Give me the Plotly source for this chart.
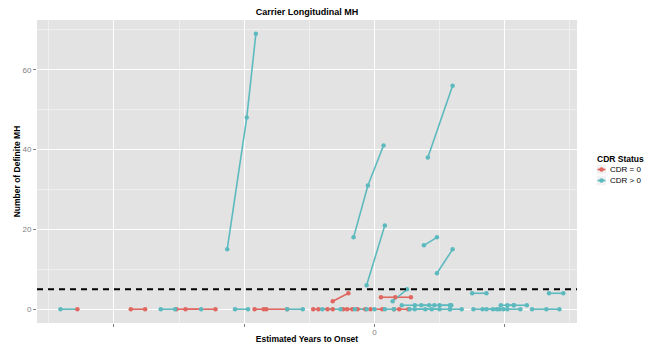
import plotly.graph_objects as go

# Longitudinal visits: one row per visit
subject_id = [
    1, 1, 2, 2, 3, 3, 4, 4, 5, 5, 6, 6, 7, 7, 7, 8, 8, 9, 9, 10, 10,
    11, 11, 12, 12, 13, 13, 14, 14, 15, 15, 15, 16, 16, 16, 17, 17, 18, 18,
    19, 19, 19, 20, 20, 20, 21, 21, 21, 22, 22, 23, 23, 23, 24, 24, 24,
    25, 25, 26, 26, 26, 27, 27, 27, 28, 28, 28, 29, 29, 29, 30, 30, 30,
    31, 31, 32, 32, 33, 33, 34, 34, 35, 35, 35, 36, 36, 37, 37, 38, 38,
    39, 39, 40, 40, 41, 41, 41,
]
years_to_onset = [
    -24.1, -22.8, -18.7, -17.6, -16.4, -15.3, -15.2, -13.3, -14.5, -12.2,
    -10.7, -9.7, -11.3, -9.8, -9.1, -9.2, -8.3, -8.5, -6.7, -6.7, -5.5,
    -4.7, -3.6, -4.3, -3.2, -4.0, -2.6, -2.4, -1.7, -2.1, -1.3, -0.7,
    -1.5, -0.6, 0.0, -0.3, 0.6, 0.8, 1.5, 1.5, 1.9, 2.6, 2.7, 3.9, 5.0,
    3.1, 4.4, 5.8, 5.8, 6.7, 2.1, 3.1, 4.2, 3.6, 4.6, 5.8, 5.0, 5.9,
    7.6, 8.6, 9.6, 8.3, 9.1, 9.9, 9.4, 10.2, 11.2, 12.1, 13.2, 14.2,
    9.7, 10.7, 11.7, 10.2, 10.7, 7.5, 8.6, 13.4, 14.5, 1.4, 2.5,
    -1.6, -0.5, 0.7, -0.6, 0.8, 4.1, 6.0, 3.8, 4.8, 4.8, 6.0,
    -3.2, -2.0, 0.5, 1.6, 2.8,
]
definite_mh = [
    0, 0, 0, 0, 0, 0, 0, 0, 0, 0, 0, 0, 15, 48, 69, 0, 0, 0, 0, 0, 0,
    0, 0, 0, 0, 0, 0, 0, 0, 0, 0, 0, 0, 0, 0, 0, 0, 0, 0,
    0, 0, 0, 0, 0, 0, 0, 0, 0, 0, 0, 1, 1, 1, 1, 1, 1,
    1, 1, 0, 0, 0, 0, 0, 0, 0, 0, 0, 0, 0, 0, 1, 1, 1,
    1, 1, 4, 4, 4, 4, 2, 5, 18, 31, 41, 6, 21, 38, 56, 16, 18,
    9, 15, 2, 4, 3, 3, 3,
]
# 1 = CDR > 0, 0 = CDR = 0
cdr_positive = [
    1, 0, 0, 0, 1, 1, 0, 1, 0, 0, 1, 1, 1, 1, 1, 0, 0, 0, 0, 1, 1,
    0, 0, 0, 0, 1, 1, 0, 0, 0, 0, 0, 1, 1, 1, 0, 0, 1, 1,
    0, 0, 0, 1, 1, 1, 1, 1, 1, 1, 1, 1, 1, 1, 1, 1, 1,
    1, 1, 1, 1, 1, 1, 1, 1, 1, 1, 1, 1, 1, 1, 1, 1, 1,
    1, 1, 1, 1, 1, 1, 1, 1, 1, 1, 1, 1, 1, 1, 1, 1, 1,
    1, 1, 0, 0, 0, 0, 0,
]

status_names = ["CDR = 0", "CDR > 0"]
status_colors = ["#E0675F", "#5CBABF"]
threshold_mh = 5

x_tick_vals = [-20, -10, 0, 10]
x_tick_text = ["", "", "0", ""]
y_tick_vals = [0, 20, 40, 60]

FIG_W, FIG_H = 646, 344
M_L, M_R, M_T, M_B = 37, 69, 20, 21
PLOT_W = FIG_W - M_L - M_R
PLOT_H = FIG_H - M_T - M_B


def paper_x(px):
    return (px - M_L) / PLOT_W


def paper_y(py):
    return (FIG_H - M_B - py) / PLOT_H


# Segments between consecutive visits, coloured by the earlier visit's status
seg_x = {0: [], 1: []}
seg_y = {0: [], 1: []}
for i in range(len(subject_id) - 1):
    if subject_id[i] == subject_id[i + 1]:
        s = cdr_positive[i]
        seg_x[s] += [years_to_onset[i], years_to_onset[i + 1], None]
        seg_y[s] += [definite_mh[i], definite_mh[i + 1], None]

fig = go.Figure()
for s in (0, 1):
    fig.add_trace(go.Scatter(
        x=seg_x[s], y=seg_y[s], mode="lines",
        line=dict(color=status_colors[s], width=1.6),
        showlegend=False, hoverinfo="skip",
    ))
for s in (0, 1):
    idx = [i for i, c in enumerate(cdr_positive) if c == s]
    fig.add_trace(go.Scatter(
        x=[years_to_onset[i] for i in idx],
        y=[definite_mh[i] for i in idx],
        mode="markers", name=status_names[s],
        marker=dict(color=status_colors[s], size=4.5, line=dict(width=0)),
        showlegend=False,
    ))

shapes = [dict(
    type="line", xref="paper", x0=0, x1=1, yref="y",
    y0=threshold_mh, y1=threshold_mh, layer="above",
    line=dict(color="black", width=2, dash="6px,5px"),
)]

FONT = "Liberation Sans, Arial, sans-serif"

# Legend drawn as keys and labels to the right of the panel
annotations = [dict(
    text="<b>CDR Status</b>", xref="paper", yref="paper",
    x=paper_x(595), y=paper_y(158.5), xanchor="left", yanchor="middle",
    showarrow=False, font=dict(family=FONT, size=8.5, color="black"),
)]
key_rows = [169.5, 180.5]
for s, ky in zip((0, 1), key_rows):
    shapes.append(dict(
        type="rect", xref="paper", yref="paper",
        x0=paper_x(596.5), x1=paper_x(606.5),
        y0=paper_y(ky + 5), y1=paper_y(ky - 5),
        fillcolor="#F2F2F2", line=dict(color="white", width=0.5),
        layer="above",
    ))
    shapes.append(dict(
        type="line", xref="paper", yref="paper",
        x0=paper_x(597.5), x1=paper_x(605.5),
        y0=paper_y(ky), y1=paper_y(ky),
        line=dict(color=status_colors[s], width=1.6), layer="above",
    ))
    shapes.append(dict(
        type="circle", xref="paper", yref="paper",
        xsizemode="pixel", ysizemode="pixel",
        xanchor=paper_x(601.5), yanchor=paper_y(ky),
        x0=-2.3, x1=2.3, y0=-2.3, y1=2.3,
        fillcolor=status_colors[s], line=dict(width=0), layer="above",
    ))
    annotations.append(dict(
        text=status_names[s], xref="paper", yref="paper",
        x=paper_x(607.5), y=paper_y(ky), xanchor="left", yanchor="middle",
        showarrow=False, font=dict(family=FONT, size=8, color="black"),
    ))

fig.update_layout(
    width=FIG_W, height=FIG_H,
    margin=dict(l=M_L, r=M_R, t=M_T, b=M_B, pad=0),
    paper_bgcolor="white", plot_bgcolor="#E3E3E3",
    font=dict(family=FONT, size=8, color="#7F7F7F"),
    title=dict(
        text="<b>Carrier Longitudinal MH</b>", x=0.5, xref="paper",
        y=1 - 12 / FIG_H, yref="container", yanchor="middle",
        font=dict(family=FONT, size=9, color="black"),
    ),
    shapes=shapes, annotations=annotations,
    xaxis=dict(
        range=[-25.9, 15.55], tickvals=x_tick_vals, ticktext=x_tick_text,
        showgrid=True, gridcolor="white", gridwidth=1,
        zeroline=False, showline=False,
        ticks="outside", ticklen=3, tickcolor="#7F7F7F", tickwidth=1,
        tickfont=dict(size=8, color="#7F7F7F"), ticklabelstandoff=-2,
        minor=dict(dtick=10, tick0=-25, showgrid=True,
                   gridcolor="#EFEFEF", gridwidth=0.5),
        title=dict(text="<b>Estimated Years to Onset</b>", standoff=6,
                   font=dict(family=FONT, size=8.5, color="black")),
        automargin=False,
    ),
    yaxis=dict(
        range=[-3.45, 72.45], tickvals=y_tick_vals,
        showgrid=True, gridcolor="white", gridwidth=1,
        zeroline=False, showline=False,
        ticks="outside", ticklen=3, tickcolor="#7F7F7F", tickwidth=1,
        tickfont=dict(size=8, color="#7F7F7F"),
        minor=dict(dtick=20, tick0=10, showgrid=True,
                   gridcolor="#EFEFEF", gridwidth=0.5),
        title=dict(text="<b>Number of Definite MH</b>", standoff=0,
                   font=dict(family=FONT, size=8.5, color="black")),
        automargin=False,
    ),
)

fig.write_html("out.html")
